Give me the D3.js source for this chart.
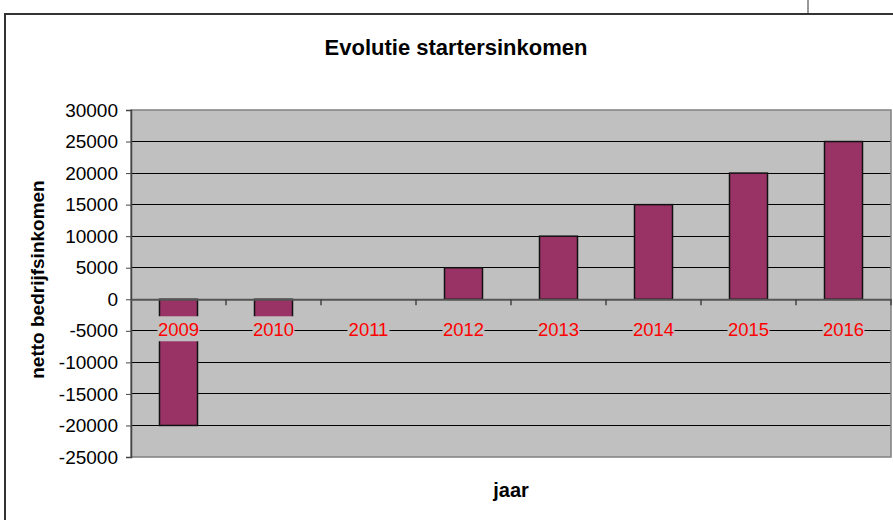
<!DOCTYPE html>
<html>
<head>
<meta charset="utf-8">
<title>Evolutie startersinkomen</title>
<script src="https://d3js.org/d3.v7.min.js"></script>
<style>
  body { margin: 0; background: #fff; }
  text { font-family: "Liberation Sans", Arial, sans-serif; }
</style>
</head>
<body>
<script>
// data
var years = ["2009", "2010", "2011", "2012", "2013", "2014", "2015", "2016"];
var inkomen = [-20000, -5000, 0, 5000, 10000, 15000, 20000, 25000];
var yTicks = [30000, 25000, 20000, 15000, 10000, 5000, 0, -5000, -10000, -15000, -20000, -25000];

var width = 893, height = 520;
var plot = {left: 131, top: 110, right: 891, bottom: 457};

var svg = d3.select("body").append("svg")
    .attr("width", width)
    .attr("height", height);

// chart border (partly off-screen, like the screenshot)
svg.append("rect")
    .attr("x", 5).attr("y", 14)
    .attr("width", 1000).attr("height", 600)
    .attr("fill", "#fff")
    .attr("stroke", "#333").attr("stroke-width", 2);
svg.append("line")
    .attr("x1", 808).attr("x2", 808).attr("y1", 0).attr("y2", 14)
    .attr("stroke", "#333").attr("stroke-width", 1);

var x = d3.scaleBand()
    .domain(years)
    .range([plot.left, plot.right])
    .paddingInner(0.6)
    .paddingOuter(0.3);

var xBand = d3.scaleBand()
    .domain(years)
    .range([plot.left, plot.right]);

var y = d3.scaleLinear()
    .domain([-25000, 30000])
    .range([plot.bottom, plot.top]);

// plot area
svg.append("rect")
    .attr("x", plot.left).attr("y", plot.top)
    .attr("width", plot.right - plot.left)
    .attr("height", plot.bottom - plot.top)
    .attr("fill", "#c0c0c0");

// gridlines
svg.append("g")
    .selectAll("line")
    .data(yTicks.filter(function(d) { return d != 0 && d != 30000 && d != -25000; }))
    .enter().append("line")
    .attr("x1", plot.left).attr("x2", plot.right)
    .attr("y1", function(d) { return y(d); })
    .attr("y2", function(d) { return y(d); })
    .attr("stroke", "#000").attr("stroke-width", 1)
    .attr("shape-rendering", "crispEdges");

// plot border
svg.append("rect")
    .attr("x", plot.left).attr("y", plot.top)
    .attr("width", plot.right - plot.left)
    .attr("height", plot.bottom - plot.top)
    .attr("fill", "none")
    .attr("stroke", "#808080").attr("stroke-width", 1.5);

// bars
svg.append("g")
    .selectAll("rect")
    .data(inkomen)
    .enter().append("rect")
    .attr("x", function(d, i) { return x(years[i]); })
    .attr("width", x.bandwidth())
    .attr("y", function(d) { return y(Math.max(0, d)); })
    .attr("height", function(d) { return Math.abs(y(d) - y(0)); })
    .attr("fill", "#993366")
    .attr("stroke", "#111").attr("stroke-width", 1.5)
    .style("display", function(d) { return d == 0 ? "none" : null; });

// y axis
var yaxis = d3.axisLeft(y)
    .tickValues(yTicks)
    .tickSize(5)
    .tickPadding(8)
    .tickFormat(function(d) { return String(d); });

var gy = svg.append("g")
    .attr("transform", "translate(" + plot.left + ",0)")
    .call(yaxis);
gy.select(".domain").attr("stroke", "#444").attr("stroke-width", 1.5);
gy.selectAll(".tick line").attr("stroke", "#444");
gy.selectAll("text")
    .attr("fill", "#000")
    .style("font-size", "19px")
    .style("font-family", "'Liberation Sans', Arial, sans-serif");

// x axis on zero line
var xaxis = d3.axisBottom(xBand)
    .tickSize(0)
    .tickFormat("");
var gx = svg.append("g")
    .attr("transform", "translate(0," + y(0) + ")")
    .call(xaxis);
gx.select(".domain").attr("stroke", "#555").attr("stroke-width", 2);

// tick marks between categories
var bounds = years.slice(1).map(function(d) { return xBand(d); });
bounds.push(plot.right);
gx.selectAll(".sep")
    .data(bounds)
    .enter().append("line")
    .attr("x1", function(d) { return d; }).attr("x2", function(d) { return d; })
    .attr("y1", 0).attr("y2", 6)
    .attr("stroke", "#444").attr("stroke-width", 1.5);

// category labels with plot-colored background
var lab = svg.append("g")
    .selectAll("g")
    .data(years)
    .enter().append("g")
    .attr("transform", function(d) {
        return "translate(" + (xBand(d) + xBand.bandwidth() / 2) + "," + (y(0) + 30) + ")";
    });
lab.append("rect")
    .attr("x", -21).attr("y", -13)
    .attr("width", 42).attr("height", 25)
    .attr("fill", "#c0c0c0");
lab.append("text")
    .attr("text-anchor", "middle")
    .attr("y", 6.5)
    .attr("fill", "#ff0000")
    .style("font-size", "18.5px")
    .text(function(d) { return d; });

// titles
svg.append("text")
    .attr("x", 456).attr("y", 55)
    .attr("text-anchor", "middle")
    .style("font-size", "22px")
    .style("font-weight", "bold")
    .text("Evolutie startersinkomen");

svg.append("text")
    .attr("x", (plot.left + plot.right) / 2).attr("y", 497)
    .attr("text-anchor", "middle")
    .style("font-size", "20px")
    .style("font-weight", "bold")
    .text("jaar");

svg.append("text")
    .attr("transform", "translate(44," + ((plot.top + plot.bottom) / 2 - 4) + ") rotate(-90)")
    .attr("text-anchor", "middle")
    .style("font-size", "19px")
    .style("font-weight", "bold")
    .text("netto bedrijfsinkomen");
</script>
</body>
</html>
